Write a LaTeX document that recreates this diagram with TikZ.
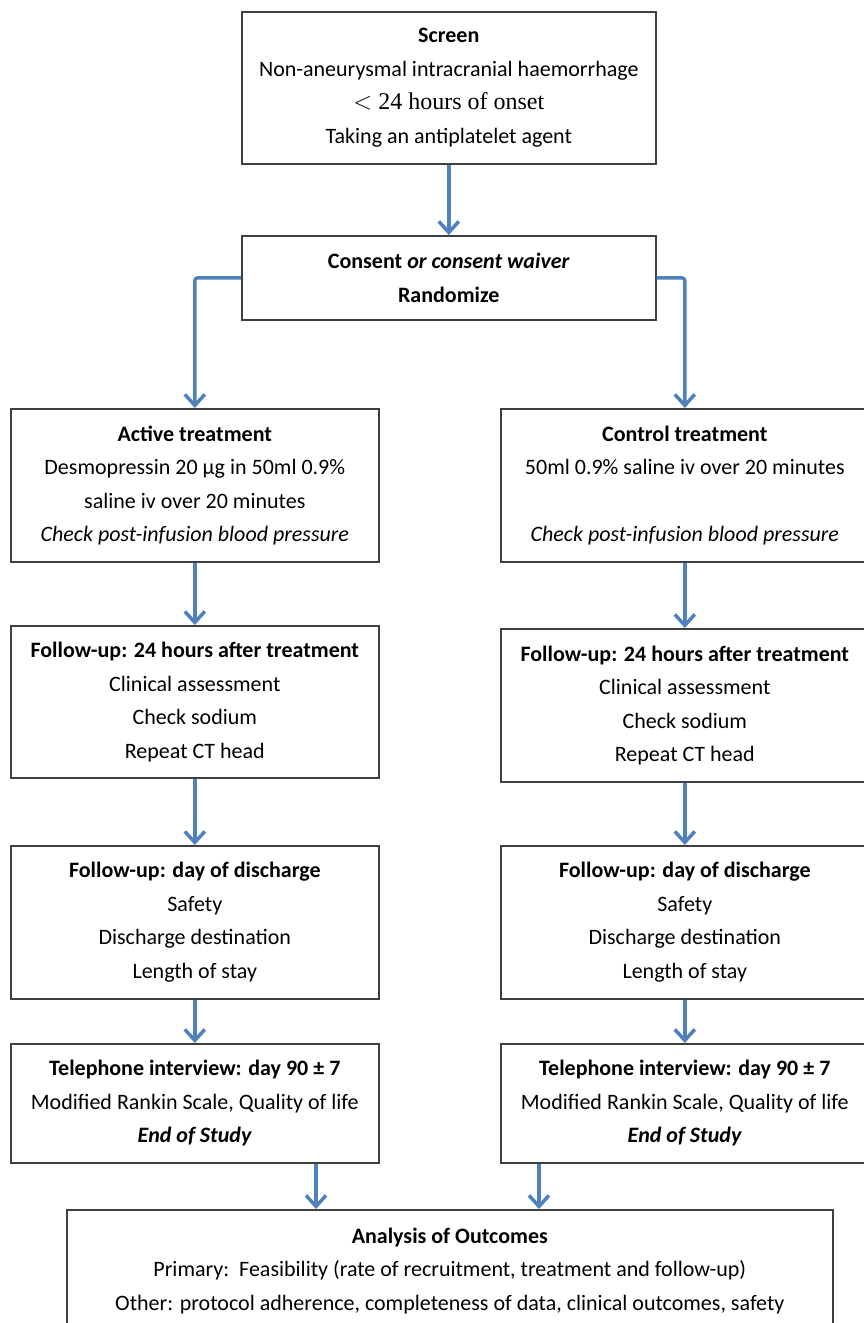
\documentclass[tikz,border=0pt]{standalone}
\usepackage{fontspec}
\setmainfont{Carlito}
\newfontfamily\serifline{Liberation Serif}
\usetikzlibrary{arrows.meta, positioning}
\definecolor{flowblue}{RGB}{79,129,189}

\tikzset{
    stepbox/.style={rectangle, draw=black!75, line width=1.6pt, fill=white,
        anchor=north west, align=center, inner sep=0pt,
        font=\fontsize{22}{33.5}\selectfont},
    flow/.style={draw=flowblue, line width=3.5pt, rounded corners=3pt,
        -{Straight Barb[length=11pt, width=20pt, line width=3.5pt]}}
}

\begin{document}
\begin{tikzpicture}[x=1pt, y=-1pt]

    \useasboundingbox (0,0) rectangle (863,1323);

    % Cribado y aleatorizacion
    \node[stepbox, minimum width=414pt, minimum height=152pt] (screen) at (241,11)
        {\textbf{Screen}\\ Non-aneurysmal intracranial haemorrhage\\
         {\serifline\fontsize{24}{33.5}\selectfont $<$ 24 hours of onset}\\ Taking an antiplatelet agent};
    \node[stepbox, minimum width=414pt, minimum height=84pt] (consent) at (241,235)
        {\textbf{Consent \textit{or consent waiver}}\\ \textbf{Randomize}};

    % Rama activa
    \node[stepbox, minimum width=368pt, minimum height=153pt] (active) at (10,408)
        {\textbf{Active treatment}\\ Desmopressin 20 µg in 50ml 0.9\%\\
         saline iv over 20 minutes\\ \textit{Check post-infusion blood pressure}};
    \node[stepbox, minimum width=368pt, minimum height=152pt] (fuA) at (10,625)
        {\textbf{Follow-up: 24 hours after treatment}\\ Clinical assessment\\
         Check sodium\\ Repeat CT head};
    \node[stepbox, minimum width=368pt, minimum height=153pt] (dischA) at (10,845)
        {\textbf{Follow-up: day of discharge}\\ Safety\\
         Discharge destination\\ Length of stay};
    \node[stepbox, minimum width=368pt, minimum height=119pt] (telA) at (10,1043)
        {\textbf{Telephone interview: day 90 ± 7}\\ Modified Rankin Scale, Quality of life\\
         \textbf{\textit{End of Study}}};

    % Rama control
    \node[stepbox, minimum width=368pt, minimum height=153pt] (control) at (500,408)
        {\textbf{Control treatment}\\ 50ml 0.9\% saline iv over 20 minutes\\[33.5pt]
         \textit{Check post-infusion blood pressure}};
    \node[stepbox, minimum width=368pt, minimum height=153pt] (fuB) at (500,628)
        {\textbf{Follow-up: 24 hours after treatment}\\ Clinical assessment\\
         Check sodium\\ Repeat CT head};
    \node[stepbox, minimum width=368pt, minimum height=153pt] (dischB) at (500,845)
        {\textbf{Follow-up: day of discharge}\\ Safety\\
         Discharge destination\\ Length of stay};
    \node[stepbox, minimum width=368pt, minimum height=119pt] (telB) at (500,1043)
        {\textbf{Telephone interview: day 90 ± 7}\\ Modified Rankin Scale, Quality of life\\
         \textbf{\textit{End of Study}}};

    % Resultados
    \node[stepbox, minimum width=766pt, minimum height=122pt] (analysis) at (66,1209)
        {\textbf{Analysis of Outcomes}\\
         Primary:\ \ Feasibility (rate of recruitment, treatment and follow-up)\\
         Other: protocol adherence, completeness of data, clinical outcomes, safety};

    % Flechas
    \coordinate (mergeA) at (316,0);
    \coordinate (mergeB) at (539,0);
    \draw[flow] (screen.south) -- (consent.north);
    \draw[flow] (consent.west) -| (active.north);
    \draw[flow] (consent.east) -| (control.north);
    \draw[flow] (active.south) -- (fuA.north);
    \draw[flow] (fuA.south) -- (dischA.north);
    \draw[flow] (dischA.south) -- (telA.north);
    \draw[flow] (control.south) -- (fuB.north);
    \draw[flow] (fuB.south) -- (dischB.north);
    \draw[flow] (dischB.south) -- (telB.north);
    \draw[flow] (telA.south -| mergeA) -- (analysis.north -| mergeA);
    \draw[flow] (telB.south -| mergeB) -- (analysis.north -| mergeB);

\end{tikzpicture}
\end{document}
